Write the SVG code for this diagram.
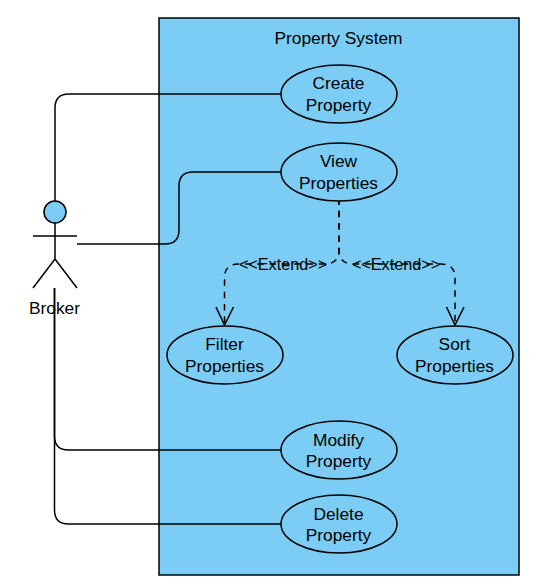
<svg xmlns="http://www.w3.org/2000/svg" width="542" height="587" viewBox="0 0 542 587">
<style>
.n{fill:#7bcdf6;stroke:#000;stroke-width:1.5}
.c{fill:none;stroke:#000;stroke-width:1.5}
.h{fill:none;stroke:#000;stroke-width:1.6}
.d{stroke-dasharray:6.5 5.8;stroke-dashoffset:2.5}
text{font-family:"Liberation Sans",Arial,sans-serif;font-size:17.33px;fill:#000;text-anchor:middle}
text.e{font-size:16.2px}
</style>
<rect width="542" height="587" fill="#fff"/>
<g id="system"><rect class="n" x="159" y="18" width="360" height="557"/><text x="338.500" y="44">Property System</text></g>
<g id="connectors">
<path class="c" d="M55 201V108Q55 94 69 94H281"/>
<path class="c" d="M77 244H165Q179 244 179 230V186Q179 172 193 172H281"/>
<path class="c" d="M54.500 288V436Q54.500 450 68.500 450H281"/>
<path class="c" d="M54.500 288V510Q54.500 524 68.500 524H281"/>
<path class="c d" d="M339 201V250Q339 264 325 264H238.500Q224.500 264 224.500 278V325"/>
<path class="c d" d="M339 201V250Q339 264 353 264H441Q455 264 455 278V325"/>
<path class="h" d="M216 307L224.500 325L233.500 307"/>
<path class="h" d="M446.500 307L455 325L464 307"/>
<text class="e" x="283" y="270">&lt;&lt;Extend&gt;&gt;</text>
<text class="e" x="396" y="270">&lt;&lt;Extend&gt;&gt;</text>
</g>
<g id="broker"><circle class="n" cx="55" cy="212" r="11"/><path class="c" d="M55 223V259M33 236H77M33 288L55 259L77 288"/><text x="54.500" y="314">Broker</text></g>
<g id="create"><ellipse class="n" cx="339" cy="94" rx="58" ry="29"/><text x="338.500" y="89">Create</text><text x="338.500" y="111">Property</text></g>
<g id="view"><ellipse class="n" cx="339" cy="172" rx="58" ry="29"/><text x="338.500" y="167">View</text><text x="338.500" y="189">Properties</text></g>
<g id="filter"><ellipse class="n" cx="225" cy="355" rx="58" ry="29"/><text x="224.500" y="350">Filter</text><text x="224.500" y="372">Properties</text></g>
<g id="sort"><ellipse class="n" cx="455" cy="355" rx="58" ry="29"/><text x="454.500" y="350">Sort</text><text x="454.500" y="372">Properties</text></g>
<g id="modify"><ellipse class="n" cx="339" cy="450" rx="58" ry="29"/><text x="338.500" y="446">Modify</text><text x="338.500" y="467">Property</text></g>
<g id="delete"><ellipse class="n" cx="339" cy="524" rx="58" ry="29"/><text x="338.500" y="520">Delete</text><text x="338.500" y="541">Property</text></g>
</svg>
